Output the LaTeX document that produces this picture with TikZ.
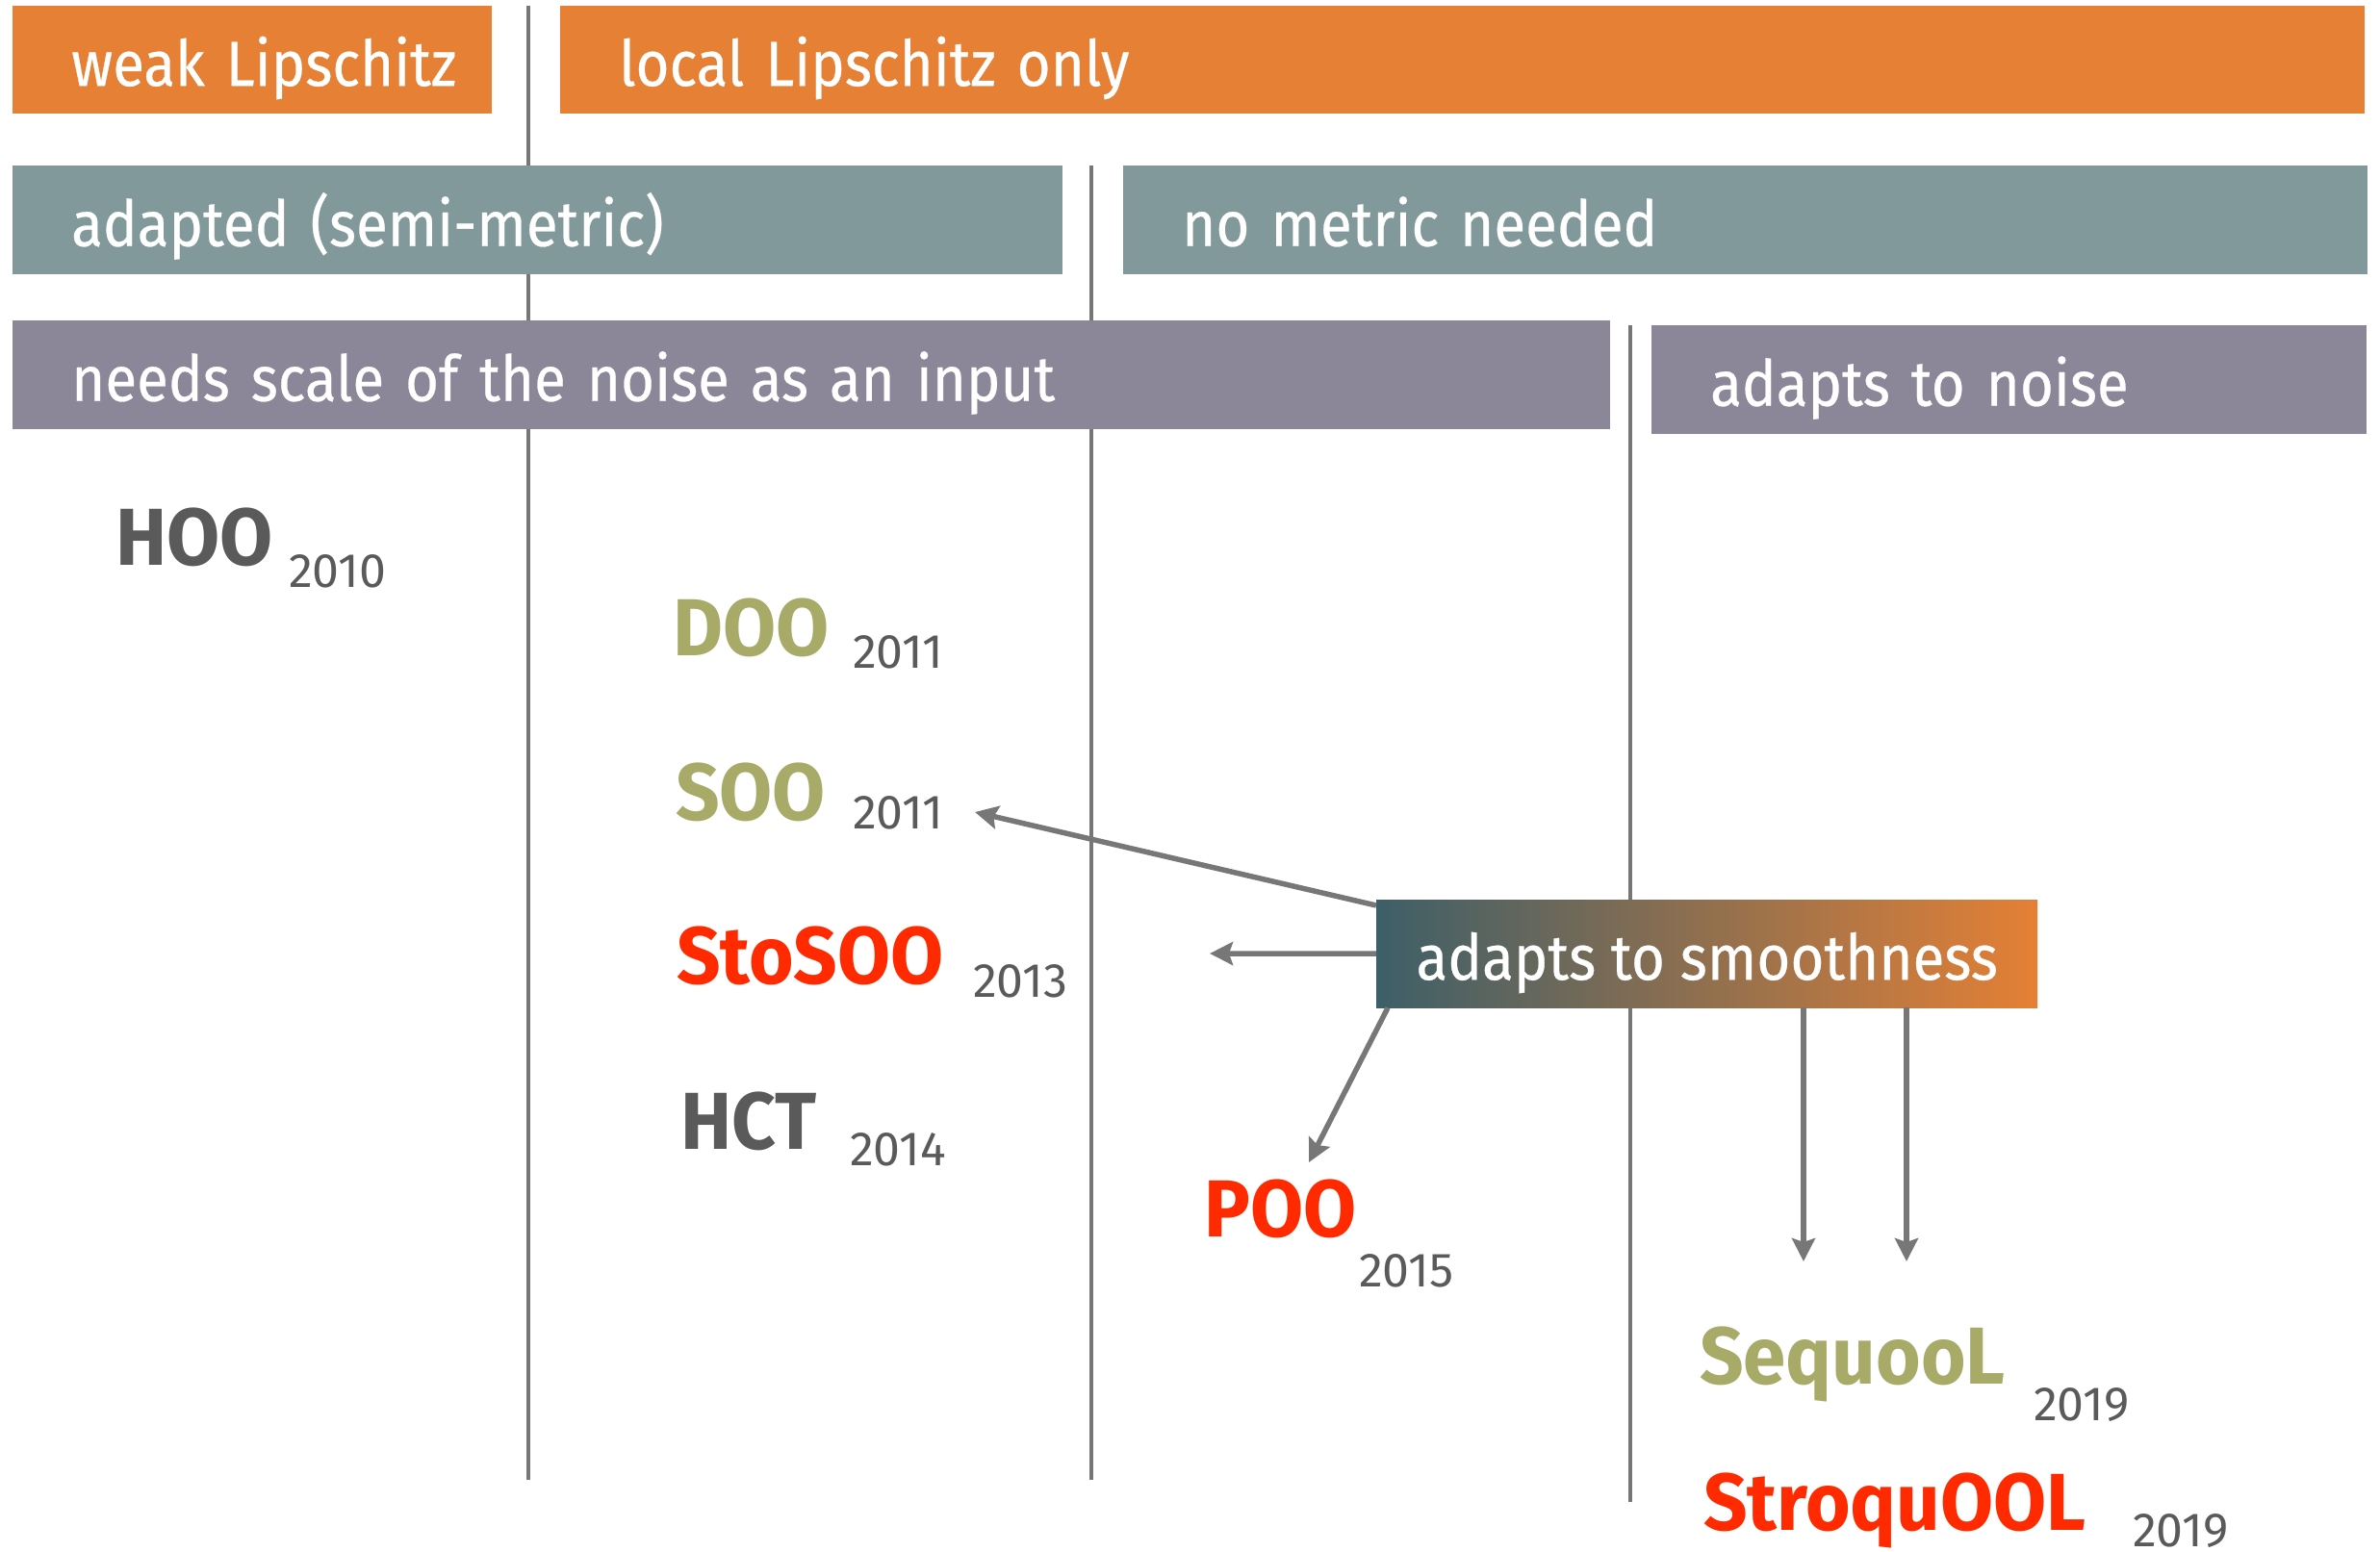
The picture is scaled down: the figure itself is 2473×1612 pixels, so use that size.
\documentclass[tikz,border=0pt]{standalone}
\usepackage{fontspec}
\setmainfont{Fira Sans}
\newfontfamily\barfont{Fira Sans}[FakeStretch=0.91,FakeBold=0.4]
\newfontfamily\algofont{Fira Sans}[FakeStretch=0.95]
\usepackage {tikz}
\usetikzlibrary{arrows.meta}
\definecolor{barorange}{HTML}{E58035}
\definecolor{barteal}{HTML}{82999B}
\definecolor{barpurple}{HTML}{8B8799}
\definecolor{gradteal}{HTML}{3D5F68}
\definecolor{rulegray}{HTML}{777777}
\definecolor{labelgray}{HTML}{5A5A5A}
\definecolor{olive}{HTML}{A8AA68}
\definecolor{hotred}{HTML}{FF2A00}
\tikzset{edge/.style = {-{Stealth[length=24pt,width=24pt,inset=4pt]}, line width=5.5pt, draw=rulegray}}

\begin{document}
\begin{tikzpicture}[x=1pt,y=-1pt,
  bar/.style={anchor=north west,inner xsep=61pt,inner ysep=0pt,align=left,text=white,font=\barfont\fontsize{66}{66}\selectfont,text height=54pt,text depth=0pt},
  smooth box/.style={anchor=north west,minimum width=687pt,minimum height=112pt,inner sep=0pt,left color=gradteal,right color=barorange,text=white,font=\barfont\fontsize{66}{66}\selectfont,text height=54pt,text depth=0pt},
  algo/.style={anchor=base west,inner sep=0pt,font=\algofont\bfseries\fontsize{84}{84}\selectfont},
  year/.style={anchor=base west,inner sep=0pt,text=labelgray,font=\fontsize{50}{50}\selectfont},
  rule/.style={draw=rulegray,line width=4.5pt}]
            \useasboundingbox (0,0) rectangle (2473,1612);
            % separators behind the bars
            \draw[rule] (549,6) -- (549,1538);
            \draw[rule] (1134,172) -- (1134,1538);
            \draw[rule] (1694,338) -- (1694,1561);
            % category bars
            \node[bar, fill=barorange, minimum height=112pt, text width=376pt] (weak) at (13,6) {\mbox{weak Lipschitz}};
            \node[bar, fill=barorange, minimum height=112pt, text width=1753pt] (local) at (582,6) {local Lipschitz only};
            \node[bar, fill=barteal, minimum height=113pt, text width=969pt] (adapted) at (13,172) {adapted (semi-metric)};
            \node[bar, fill=barteal, minimum height=113pt, text width=1171pt] (nometric) at (1167,172) {no metric needed};
            \node[bar, fill=barpurple, minimum height=113pt, text width=1538pt] (needs) at (13,333) {needs scale of the noise as an input};
            \node[bar, fill=barpurple, minimum height=113pt, text width=621pt] (noise) at (1716,338) {adapts to noise};
            % algorithms
            \node[algo, text=labelgray] (hoo) at (120,587) {HOO};
            \node[year] (hoo year) at (300,610) {2010};
            \node[algo, text=olive] (doo) at (699,681) {DOO};
            \node[year] (doo year) at (886,694) {2011};
            \node[algo, text=olive] (soo) at (702,852) {SOO};
            \node[year] (soo year) at (886,861) {2011};
            \node[algo, text=hotred] (stosoo) at (703,1022) {StoSOO};
            \node[year] (stosoo year) at (1011,1036) {2013};
            \node[algo, text=labelgray] (hct) at (707,1194) {HCT};
            \node[year] (hct year) at (883,1211) {2014};
            \node[algo, text=hotred] (poo) at (1251,1285) {POO};
            \node[year] (poo year) at (1412,1337) {2015};
            \node[algo, text=olive] (sequool) at (1766,1438) {SequooL};
            \node[year] (sequool year) at (2113,1476) {2019};
            \node[algo, text=hotred] (stroquool) at (1770,1590) {StroquOOL};
            \node[year] (stroquool year) at (2216,1607) {2019};
            % smoothness box and its arrows
            \node[smooth box] (smooth) at (1430,935) {adapts to smoothness};
            \coordinate (soo tip) at (1013,844);
            \coordinate (stosoo tip) at (1257,991);
            \coordinate (poo tip) at (1360,1208);
            \coordinate (sequool tip) at (1874,1311);
            \coordinate (stroquool tip) at (1981,1311);
            \draw[edge] ([yshift=-6pt]smooth.north west) -- (soo tip);
            \draw[edge] (smooth.west) -- (stosoo tip);
            \draw[edge] ([xshift=12pt]smooth.south west) -- (poo tip);
            \draw[edge] ([xshift=444pt]smooth.south west) -- (sequool tip);
            \draw[edge] ([xshift=551pt]smooth.south west) -- (stroquool tip);
        \end{tikzpicture}
\end{document}
